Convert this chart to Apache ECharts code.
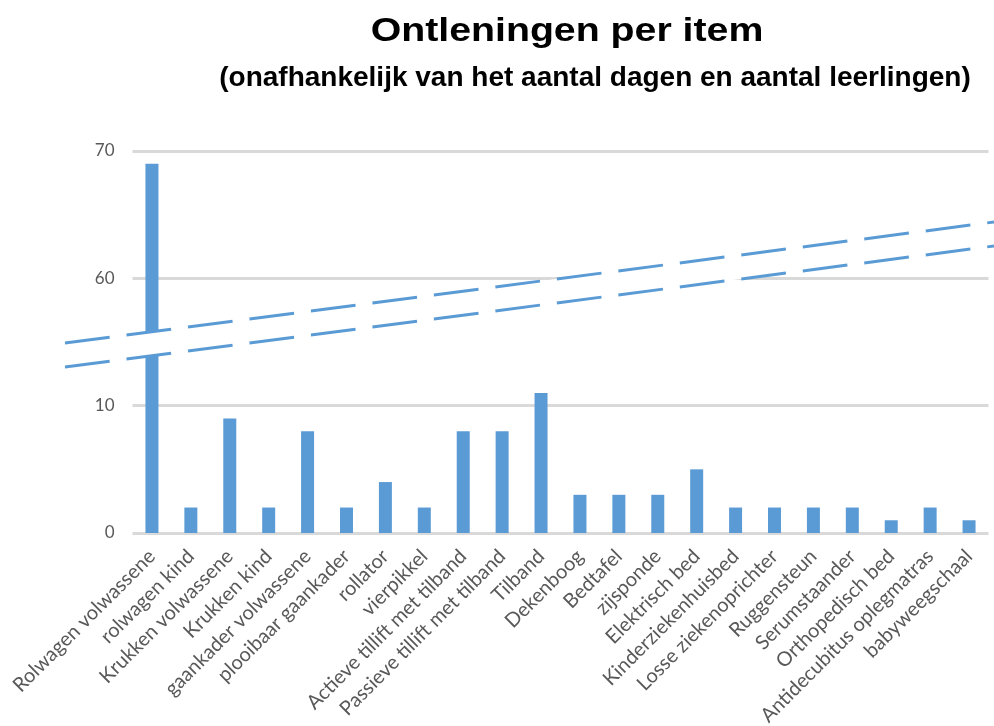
<!DOCTYPE html>
<html><head><meta charset="utf-8">
<script src="https://cdn.jsdelivr.net/npm/echarts@6/dist/echarts.min.js"></script>
<style>html,body{margin:0;padding:0;background:#fff}#c{width:994px;height:726px}</style>
</head><body><div id="c"></div>
<script>
const titleText = 'Ontleningen per item';
const subtitleText = '(onafhankelijk van het aantal dagen en aantal leerlingen)';
const categories = ['Rolwagen volwassene','rolwagen kind','Krukken volwassene','Krukken kind','gaankader volwassene','plooibaar gaankader','rollator','vierpikkel','Actieve tillift met tilband','Passieve tillift met tilband','Tilband','Dekenboog','Bedtafel','zijsponde','Elektrisch bed','Kinderziekenhuisbed','Losse ziekenoprichter','Ruggensteun','Serumstaander','Orthopedisch bed','Antidecubitus oplegmatras','babyweegschaal'];
const values = [69,2,9,2,8,2,4,2,8,8,11,3,3,3,5,2,2,2,2,1,2,1];
const yTicks = [0, 10, 60, 70];

const chart = echarts.init(document.getElementById('c'), null, {renderer:'canvas'});
const blue = '#5B9BD5';
const option = {
  animation:false,
  graphic:[
    {type:'text', x:567, y:32, scaleX:1.19, z:200,
     style:{text:titleText, font:'bold 33px "Liberation Sans", Arial, sans-serif', fill:'#000', textAlign:'center', textVerticalAlign:'middle'}},
    {type:'text', x:595, y:78, z:200,
     style:{text:subtitleText, font:'bold 28px "Liberation Sans", Arial, sans-serif', fill:'#000', textAlign:'center', textVerticalAlign:'middle'}},
    {type:'polygon', z:100, shape:{points:[[65,343],[994,222],[994,246],[65,367]]}, style:{fill:'#fff'}},
    {type:'line', z:101, shape:{x1:65,y1:343,x2:994,y2:222}, style:{stroke:blue, lineWidth:3, lineDash:[45,17]}},
    {type:'line', z:101, shape:{x1:65,y1:367,x2:994,y2:246}, style:{stroke:blue, lineWidth:3, lineDash:[45,17]}}
  ],
  grid:{left:132.5, right:5.5, top:151, bottom:193, containLabel:false, outerBoundsMode:'none'},
  xAxis:{type:'category', data:categories,
    axisLine:{show:false}, axisTick:{show:false},
    axisLabel:{rotate:45, interval:0, margin:20, color:'#595959', fontSize:20, fontFamily:'Lato'}},
  yAxis:{type:'value', min:yTicks[0], max:yTicks[3], interval:10,
    breaks:[{start:12, end:58, gap:6}],
    breakArea:{show:true, expandOnClick:false, zigzagAmplitude:0,
      itemStyle:{color:'rgba(0,0,0,0)', borderColor:'rgba(0,0,0,0)', borderWidth:0, opacity:0}},
    axisLine:{show:false},
    axisTick:{show:false, customValues:yTicks},
    axisLabel:{margin:18, color:'#595959', fontSize:17, fontFamily:'Lato', customValues:yTicks},
    splitLine:{show:true, lineStyle:{color:'#D9D9D9', width:3}}},
  series:[{type:'bar', data:values, barWidth:13, itemStyle:{color:blue}}]
};
chart.setOption(option);
</script></body></html>
